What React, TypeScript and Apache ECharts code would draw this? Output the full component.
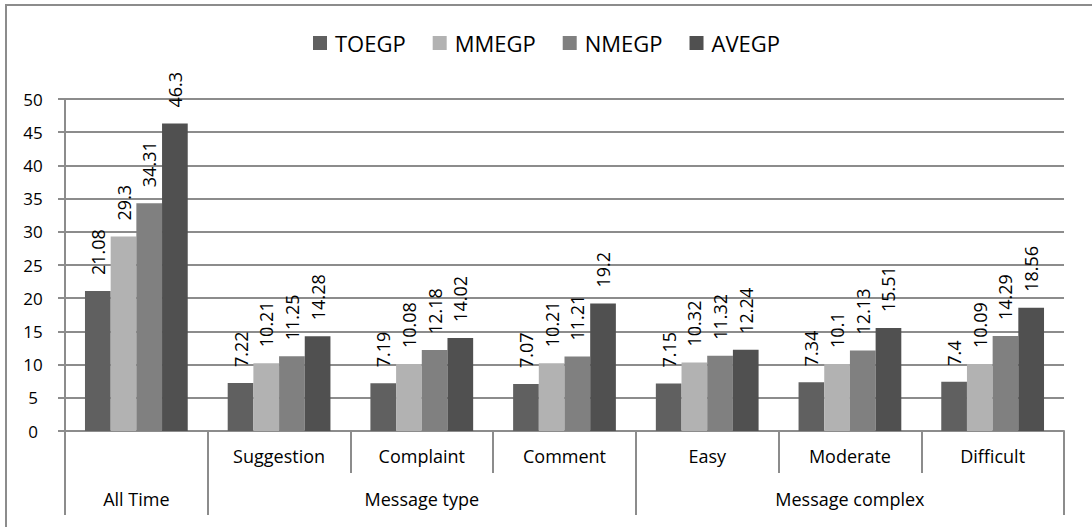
import React, { useEffect, useRef } from "react";
import * as echarts from "echarts";

const categories = ["All Time", "Suggestion", "Complaint", "Comment", "Easy", "Moderate", "Difficult"];
const groupLabels = ["All Time", "Message type", "Message complex"];
const groupSpans = [1, 3, 3];
const seriesNames = ["TOEGP", "MMEGP", "NMEGP", "AVEGP"];
const toegp = [21.08, 7.22, 7.19, 7.07, 7.15, 7.34, 7.4];
const mmegp = [29.3, 10.21, 10.08, 10.21, 10.32, 10.1, 10.09];
const nmegp = [34.31, 11.25, 12.18, 11.21, 11.32, 12.13, 14.29];
const avegp = [46.3, 14.28, 14.02, 19.2, 12.24, 15.51, 18.56];
const colors = ["#606060", "#b2b2b2", "#808080", "#505050"];
const yTicks = { min: 0, max: 50, interval: 5 };

const FONT = "Open Sans";
const LINE = "#8c8c8c";

export default function App() {
  const ref = useRef<HTMLDivElement>(null);
  useEffect(() => {
    if (!ref.current) return;
    const chart = echarts.init(ref.current, null, { renderer: "svg" });
    const boundaries: number[] = [0];
    const centers: number[] = [];
    groupSpans.forEach((s) => {
      const start = boundaries[boundaries.length - 1];
      centers.push(start + s / 2);
      boundaries.push(start + s);
    });
    const values = [toegp, mmegp, nmegp, avegp];
    chart.setOption({
      animation: false,
      textStyle: { fontFamily: FONT },
      legend: {
        left: 313,
        top: 32,
        padding: 0,
        itemWidth: 14,
        itemHeight: 14,
        itemGap: 27,
        icon: "rect",
        data: seriesNames,
        textStyle: { fontSize: 22, color: "#000", fontFamily: FONT, padding: [0, 0, 0, 3] },
      },
      grid: { left: 65, right: 28, top: 99, bottom: 96, containLabel: false },
      xAxis: [
        {
          type: "category",
          data: categories,
          axisLine: { show: true, lineStyle: { color: LINE, width: 2 } },
          axisTick: { show: true, length: 42, interval: 0, lineStyle: { color: LINE, width: 2 } },
          axisLabel: {
            interval: 0,
            fontSize: 18,
            color: "#000",
            fontFamily: FONT,
            margin: 16,
            formatter: (v: string) => (groupLabels.includes(v) ? "" : v),
          },
          splitLine: { show: false },
        },
        {
          type: "value",
          min: 0,
          max: categories.length,
          position: "bottom",
          axisLine: { show: false },
          axisTick: {
            show: true,
            length: 84,
            customValues: boundaries,
            lineStyle: { color: LINE, width: 2 },
          },
          axisLabel: {
            show: true,
            customValues: centers,
            fontSize: 18,
            color: "#000",
            fontFamily: FONT,
            margin: 59,
            formatter: (v: number) => {
              const i = centers.findIndex((c) => Math.abs(c - v) < 1e-6);
              return i >= 0 ? groupLabels[i] : "";
            },
          },
          splitLine: { show: false },
        },
      ],
      yAxis: {
        type: "value",
        min: yTicks.min,
        max: yTicks.max,
        interval: yTicks.interval,
        axisLine: { show: true, lineStyle: { color: LINE, width: 2 } },
        axisTick: { show: true, length: 7, lineStyle: { color: LINE, width: 2 } },
        splitLine: { show: true, lineStyle: { color: LINE, width: 2 } },
        axisLabel: { fontSize: 17, color: "#000", fontFamily: FONT, margin: 32, align: "center" },
      },
      series: seriesNames.map((name, i) => ({
        name,
        type: "bar",
        xAxisIndex: 0,
        data: values[i],
        barGap: "0%",
        barCategoryGap: "28%",
        itemStyle: { color: colors[i] },
        label: {
          show: true,
          position: "top",
          rotate: 90,
          align: "left",
          verticalAlign: "middle",
          distance: 16,
          fontSize: 18,
          color: "#000",
          fontFamily: FONT,
        },
      })),
      graphic: [
        {
          type: "rect",
          shape: { x: 6, y: 5, width: 1100, height: 540 },
          style: { fill: "none", stroke: "#8c8c8c", lineWidth: 2 },
          silent: true,
        },
      ],
    });
    return () => chart.dispose();
  }, []);
  return (
    <div
      ref={ref}
      style={{ position: "fixed", left: 0, top: 0, width: 1092, height: 527, background: "#fff" }}
    />
  );
}
